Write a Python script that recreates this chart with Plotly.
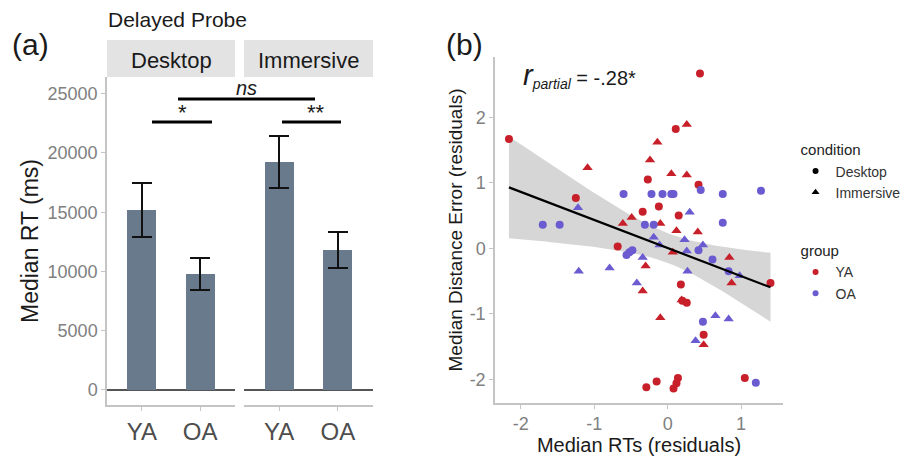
import numpy as np
import plotly.graph_objects as go

# ---------------- Panel (a) data ----------------
groups = ["YA", "OA"]
desktop_rt = [15190, 9790]
desktop_err = [2280, 1350]
immersive_rt = [19240, 11810]
immersive_err = [2200, 1510]
y_ticks_a = [0, 5000, 10000, 15000, 20000, 25000]
y_ticklabels_a = ["0", "5000", "10000", "15000", "20000", "25000"]

# ---------------- Panel (b) data ----------------
ya_desktop_x = [-2.16, -1.25, 0.44, 0.11, -0.27, 0.42, -0.12, -0.34, 0.15, -0.68, 0.18, 0.20, 0.26, 0.49, 1.40,
                -0.29, -0.15, 0.14, 0.12, 0.08, 1.05]
ya_desktop_y = [1.67, 0.77, 2.67, 1.82, 1.05, 0.97, 0.64, 0.56, 0.50, 0.03, -0.55, -0.80, -0.83, -1.32, -0.53,
                -2.12, -2.03, -1.98, -2.06, -2.14, -1.98]
ya_immersive_x = [-1.09, -0.49, -0.61, 0.26, -0.14, -0.24, 0.05, 0.26, -0.10, 0.12, 0.41, 0.07, -0.30, 0.84, 0.87,
                  -0.34, -0.10, 0.49, 0.19]
ya_immersive_y = [1.23, 0.47, 0.38, 1.89, 1.62, 1.35, 1.14, 1.12, 0.38, 0.27, 0.25, -0.06, -0.27, -0.14, -0.53,
                  -0.65, -1.06, -1.47, -0.79]
oa_desktop_x = [-0.60, -1.70, -1.47, -0.52, -0.56, -0.48, -0.22, -0.07, 0.05, 0.08, 0.45, 0.75, 1.27, -0.31, -0.19,
                0.75, 0.42, 0.61, 0.83, 0.48, 1.20]
oa_desktop_y = [0.83, 0.36, 0.36, -0.06, -0.10, -0.03, 0.83, 0.83, 0.83, 0.83, 0.89, 0.83, 0.88, 0.36, 0.36,
                0.39, -0.03, -0.17, -0.35, -1.12, -2.05]
oa_immersive_x = [-1.22, -1.21, -0.79, -0.42, 0.30, -0.19, 0.23, -0.11, 0.48, 0.26, -0.34, 0.27, 0.98, 0.65, 0.83,
                  0.38]
oa_immersive_y = [0.62, -0.35, -0.30, -0.53, 0.55, 0.17, 0.13, 0.05, 0.05, -0.04, -0.14, -0.35, -0.42, -1.03, -1.08,
                  -1.41]
x_ticks_b = [-2, -1, 0, 1]
x_ticklabels_b = ["-2", "-1", "0", "1"]
y_ticks_b = [-2, -1, 0, 1, 2]
y_ticklabels_b = ["-2", "-1", "0", "1", "2"]

RED = "#C8202A"
BLUE = "#6A5BD0"
BAR = "#697A8C"
FONT = "Liberation Sans, Arial, sans-serif"

fig = go.Figure()

# bars
for xa, vals, errs in [("x", desktop_rt, desktop_err), ("x2", immersive_rt, immersive_err)]:
    fig.add_trace(go.Bar(
        x=groups, y=vals, xaxis=xa, yaxis="y", width=0.5,
        marker=dict(color=BAR, line=dict(width=0)),
        error_y=dict(type="data", array=errs, color="#111111", thickness=2.6, width=10),
        showlegend=False))

# scatter + linear fit with 95% CI
all_x = np.array(ya_desktop_x + ya_immersive_x + oa_desktop_x + oa_immersive_x)
all_y = np.array(ya_desktop_y + ya_immersive_y + oa_desktop_y + oa_immersive_y)
slope, intercept = np.polyfit(all_x, all_y, 1)
xs = np.linspace(all_x.min(), all_x.max(), 80)
fit = intercept + slope * xs
n = len(all_x)
resid = all_y - (intercept + slope * all_x)
sigma = np.sqrt(np.sum(resid ** 2) / (n - 2))
sxx = np.sum((all_x - all_x.mean()) ** 2)
se = sigma * np.sqrt(1 / n + (xs - all_x.mean()) ** 2 / sxx)
tcrit = 1.993
upper = fit + tcrit * se
lower = fit - tcrit * se

fig.add_trace(go.Scatter(x=np.concatenate([xs, xs[::-1]]), y=np.concatenate([upper, lower[::-1]]),
                         fill="toself", fillcolor="rgba(204,204,204,0.8)", line=dict(width=0),
                         mode="lines", xaxis="x3", yaxis="y3", showlegend=False, hoverinfo="skip"))

for xs_, ys_, col, sym in [(ya_desktop_x, ya_desktop_y, RED, "circle"),
                           (ya_immersive_x, ya_immersive_y, RED, "triangle-up"),
                           (oa_desktop_x, oa_desktop_y, BLUE, "circle"),
                           (oa_immersive_x, oa_immersive_y, BLUE, "triangle-up")]:
    fig.add_trace(go.Scatter(x=xs_, y=ys_, mode="markers", xaxis="x3", yaxis="y3",
                             marker=dict(color=col, symbol=sym, size=8 if sym == "circle" else 9,
                                         line=dict(width=0)),
                             showlegend=False))

fig.add_trace(go.Scatter(x=xs, y=fit, mode="lines", line=dict(color="black", width=2.2),
                         xaxis="x3", yaxis="y3", showlegend=False))

# legend entries
for name, sym, col, grp in [("Desktop", "circle", "black", "condition"),
                            ("Immersive", "triangle-up", "black", "condition"),
                            ("YA", "circle", RED, "group"),
                            ("OA", "circle", BLUE, "group")]:
    fig.add_trace(go.Scatter(x=[None], y=[None], mode="markers", name=name, xaxis="x3", yaxis="y3",
                             marker=dict(color=col, symbol=sym, size=6 if sym == "circle" else 7),
                             legendgroup=grp, legendgrouptitle=dict(text=grp, font=dict(size=15, color="#222"))))

axis_gray = "#C4C4C4"
tick_gray = "#808080"

common = dict(showline=True, linecolor=axis_gray, linewidth=1.5, ticks="outside", tickcolor=axis_gray,
              ticklen=4, showgrid=False, automargin=False)

fig.update_layout(
    width=903, height=462, margin=dict(l=0, r=0, t=0, b=0, autoexpand=False),
    paper_bgcolor="white", plot_bgcolor="white",
    font=dict(family=FONT),
    bargap=0,
    xaxis=dict(domain=[107 / 903, 235 / 903], anchor="y", type="category", range=[-0.6, 1.6],
               tickfont=dict(size=24, color="#4D4D4D"), zeroline=False, **common),
    xaxis2=dict(domain=[244 / 903, 373 / 903], anchor="y", type="category", range=[-0.6, 1.6],
                tickfont=dict(size=24, color="#4D4D4D"), zeroline=False, **common),
    yaxis=dict(domain=[1 - 405 / 462, 1 - 77 / 462], anchor="x", range=[-1270, 26410],
               tickvals=y_ticks_a, ticktext=y_ticklabels_a,
               tickfont=dict(size=18, color=tick_gray),
               zeroline=True, zerolinecolor="#555555", zerolinewidth=2,
               title=dict(text="Median RT (ms)", font=dict(size=23, color="#1A1A1A"), standoff=3), **common),
    xaxis3=dict(domain=[495 / 903, 783 / 903], anchor="y3", range=[-2.35, 1.57],
                tickvals=x_ticks_b, ticktext=x_ticklabels_b,
                tickfont=dict(size=18, color=tick_gray), zeroline=False,
                title=dict(text="Median RTs (residuals)", font=dict(size=20, color="#1A1A1A"), standoff=4), **common),
    yaxis3=dict(domain=[1 - 403 / 462, 1 - 57 / 462], anchor="x3", range=[-2.36, 2.92],
                tickvals=y_ticks_b, ticktext=y_ticklabels_b,
                tickfont=dict(size=18, color=tick_gray), zeroline=False,
                title=dict(text="Median Distance Error (residuals)", font=dict(size=19, color="#1A1A1A"),
                           standoff=2), **common),
    legend=dict(x=0.881, y=1 - 133 / 462, xanchor="left", yanchor="top", tracegroupgap=36,
                font=dict(size=14, color="#333")),
)

shapes = []
# strips
for x0, x1 in [(107, 235), (244, 373)]:
    shapes.append(dict(type="rect", xref="paper", yref="paper", x0=x0 / 903, x1=x1 / 903,
                       y0=1 - 77 / 462, y1=1 - 40 / 462, fillcolor="#E3E3E3", line=dict(width=0), layer="below"))
# significance lines
for x0, x1, yv in [(152, 212, 22620), (282, 341, 22620), (178, 315, 24560)]:
    shapes.append(dict(type="line", xref="paper", yref="y", x0=x0 / 903, x1=x1 / 903, y0=yv, y1=yv,
                       line=dict(color="black", width=3)))
fig.update_layout(shapes=shapes)

ann = [
    dict(text="Delayed Probe", x=106 / 903, y=1 - 20 / 462, xanchor="left", yanchor="middle",
         font=dict(size=21, color="#1A1A1A")),
    dict(text="Desktop", x=171 / 903, y=1 - 60 / 462, xanchor="center", yanchor="middle",
         font=dict(size=22, color="#1A1A1A")),
    dict(text="Immersive", x=308.5 / 903, y=1 - 60 / 462, xanchor="center", yanchor="middle",
         font=dict(size=22, color="#1A1A1A")),
    dict(text="(a)", x=10 / 903, y=1 - 45 / 462, xanchor="left", yanchor="middle",
         font=dict(size=30, color="#1A1A1A")),
    dict(text="(b)", x=444 / 903, y=1 - 45 / 462, xanchor="left", yanchor="middle",
         font=dict(size=30, color="#1A1A1A")),
    dict(text="*", x=182 / 903, y=1 - 112 / 462, xanchor="center", yanchor="middle",
         font=dict(size=22, color="#1A1A1A")),
    dict(text="**", x=316 / 903, y=1 - 112 / 462, xanchor="center", yanchor="middle",
         font=dict(size=22, color="#1A1A1A")),
    dict(text="<i>ns</i>", x=247 / 903, y=1 - 88 / 462, xanchor="center", yanchor="middle",
         font=dict(size=20, color="#1A1A1A")),
    dict(text="<span style='font-size:29px'><i>r</i></span><sub><i>partial</i></sub> = -.28*",
         x=521 / 903, y=1 - 76 / 462, xanchor="left", yanchor="middle", font=dict(size=20, color="#1A1A1A")),
]
for a in ann:
    a.update(xref="paper", yref="paper", showarrow=False)
fig.update_layout(annotations=ann)

fig.write_html("out.html", config={"displayModeBar": False},
               post_script="document.body.style.margin='0';document.body.style.padding='0';")
